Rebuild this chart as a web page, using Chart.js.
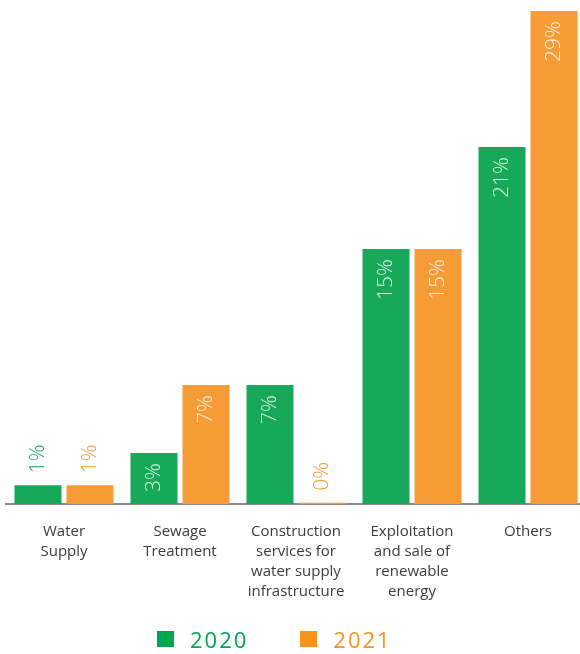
<!DOCTYPE html>
<html lang="en">
<head>
    <meta charset="UTF-8">
    <title>Revenue share by business</title>
    <style>
        body {
            margin: 0;
            padding: 0;
            background: #fff;
            overflow: hidden;
            font-family: "Open Sans", Arial, sans-serif;
        }
        .wrap {
            position: relative;
            width: 586px;
            height: 654px;
        }
        .legend {
            position: absolute;
            left: 157px;
            top: 627px;
            display: flex;
            align-items: center;
        }
        .legend span.box {
            display: inline-block;
            width: 17px;
            height: 16px;
            margin-right: 16px;
        }
        .legend span.txt {
            font-size: 22px;
            letter-spacing: 2px;
            line-height: 24px;
            margin-right: 52px;
        }
    </style>
    <script src="https://cdn.jsdelivr.net/npm/chart.js"></script>
</head>
<body>
    <div class="wrap">
        <canvas id="chart" width="586" height="654"></canvas>
        <div class="legend" id="legend"></div>
    </div>

    <script>
        // data
        const categories = [
            ['Water', 'Supply'],
            ['Sewage', 'Treatment'],
            ['Construction', 'services for', 'water supply', 'infrastructure'],
            ['Exploitation', 'and sale of', 'renewable', 'energy'],
            ['Others']
        ];
        const seriesNames = ['2020', '2021'];
        const values2020 = [1.1, 3, 7, 15, 21];
        const values2021 = [1.1, 7, 0.07, 15, 29];

        const barColors = ['#17a85a', '#f59c36'];
        const keyColors = ['#00a651', '#f7941d'];

        // rotated percentage labels on each bar
        const barLabels = {
            id: 'barLabels',
            afterDatasetsDraw(chart) {
                const ctx = chart.ctx;
                chart.data.datasets.forEach((ds, i) => {
                    chart.getDatasetMeta(i).data.forEach((bar, j) => {
                        const v = ds.data[j];
                        const text = Math.round(v) + '%';
                        ctx.save();
                        ctx.translate(bar.x, bar.y);
                        ctx.rotate(-Math.PI / 2);
                        ctx.font = '300 21px "Open Sans"';
                        ctx.textBaseline = 'middle';
                        if (v >= 3) {
                            ctx.textAlign = 'right';
                            ctx.fillStyle = 'rgba(255,255,255,0.9)';
                            ctx.fillText(text, -10, 0);
                        } else {
                            ctx.textAlign = 'left';
                            ctx.fillStyle = keyColors[i];
                            ctx.fillText(text, 12, 0);
                        }
                        ctx.restore();
                    });
                });
            }
        };

        Chart.defaults.font.family = '"Open Sans", Arial, sans-serif';

        const chart = new Chart(document.getElementById('chart'), {
            type: 'bar',
            data: {
                labels: categories,
                datasets: [
                    {
                        label: seriesNames[0],
                        data: values2020,
                        backgroundColor: barColors[0],
                        borderWidth: 0,
                        categoryPercentage: 0.8966,
                        barPercentage: 0.904
                    },
                    {
                        label: seriesNames[1],
                        data: values2021,
                        backgroundColor: barColors[1],
                        borderWidth: 0,
                        categoryPercentage: 0.8966,
                        barPercentage: 0.904
                    }
                ]
            },
            options: {
                responsive: false,
                animation: false,
                layout: { padding: { left: 6, right: 0, top: 0, bottom: 0 } },
                plugins: {
                    legend: { display: false },
                    tooltip: { enabled: false }
                },
                scales: {
                    x: {
                        grid: { display: false, drawTicks: false },
                        border: { display: true, color: '#8c8c8c', width: 2 },
                        ticks: {
                            color: '#3c3c3c',
                            font: { size: 15, lineHeight: '20px' },
                            padding: 18,
                            maxRotation: 0,
                            autoSkip: false
                        },
                        afterFit(scale) { scale.height = 150; }
                    },
                    y: {
                        display: false,
                        min: 0,
                        max: 29.65
                    }
                }
            },
            plugins: [barLabels]
        });

        // legend built from the datasets
        const legend = document.getElementById('legend');
        chart.data.datasets.forEach((ds, i) => {
            const box = document.createElement('span');
            box.className = 'box';
            box.style.background = keyColors[i];
            const txt = document.createElement('span');
            txt.className = 'txt';
            txt.style.color = keyColors[i];
            txt.textContent = ds.label;
            legend.appendChild(box);
            legend.appendChild(txt);
        });
    </script>
</body>
</html>
